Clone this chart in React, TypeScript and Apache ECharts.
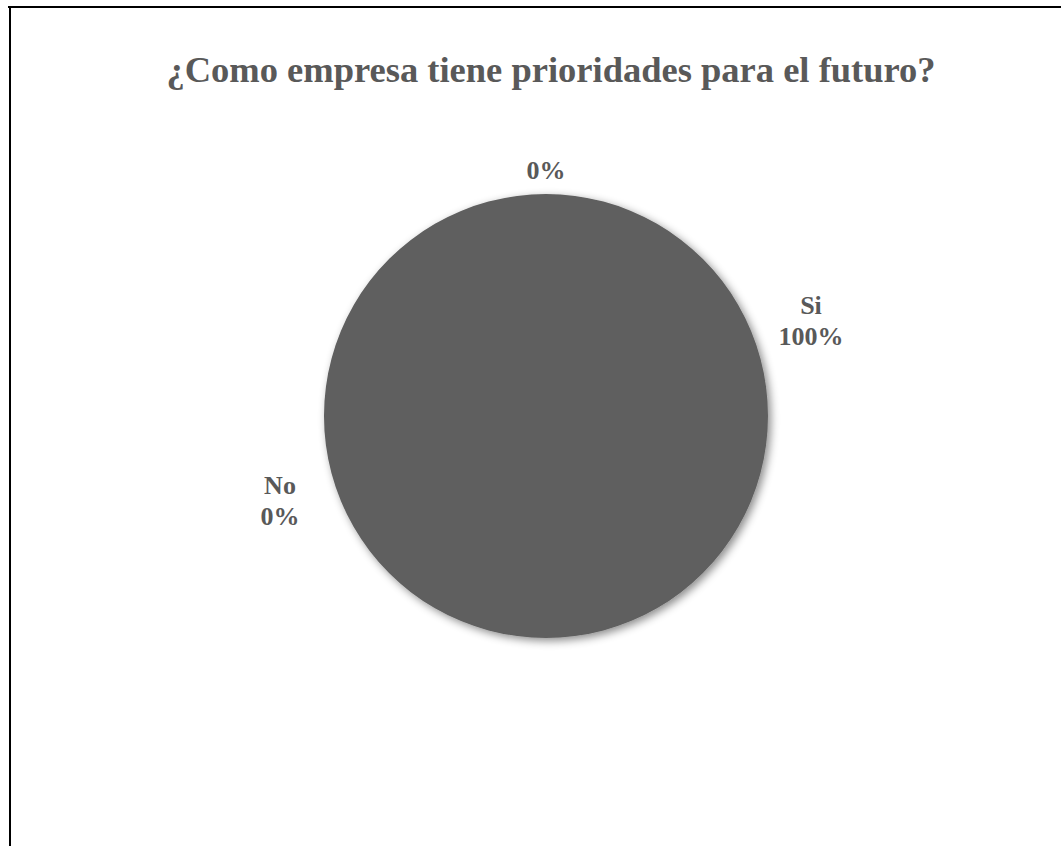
import React, { useEffect, useRef } from "react";
import * as echarts from "echarts";

const titleText = "¿Como empresa tiene prioridades para el futuro?";
const categories = ["Si", "No", ""];
const values = [100, 0, 0];

export default function App() {
  const ref = useRef<HTMLDivElement>(null);
  useEffect(() => {
    if (!ref.current) return;
    const chart = echarts.init(ref.current, undefined, { renderer: "svg" });
    const labelPos: Record<number, [number, number]> = {
      0: [811, 321],
      1: [280, 501],
      2: [546, 170],
    };
    chart.setOption({
      animation: false,
      backgroundColor: "#ffffff",
      title: {
        text: titleText,
        left: 546,
        textAlign: "center",
        top: 46,
        textStyle: {
          fontFamily: "Liberation Serif",
          fontWeight: "bold",
          fontSize: 36.5,
          color: "#595959",
        },
      },
      graphic: [
        { type: "line", shape: { x1: 8, y1: 7, x2: 1061, y2: 7 }, style: { stroke: "#000", lineWidth: 2 } },
        { type: "line", shape: { x1: 10, y1: 6, x2: 10, y2: 846 }, style: { stroke: "#000", lineWidth: 2 } },
      ],
      series: [
        {
          type: "pie",
          center: [546, 416],
          radius: 222,
          startAngle: 90,
          clockwise: true,
          silent: true,
          data: categories.map((c, i) => ({ name: c, value: values[i] })),
          itemStyle: {
            color: "#5f5f5f",
            shadowBlur: 8,
            shadowColor: "rgba(0,0,0,0.45)",
            shadowOffsetX: 3,
            shadowOffsetY: 3,
          },
          label: {
            show: true,
            position: "outside",
            fontFamily: "Liberation Serif",
            fontWeight: "bold",
            fontSize: 26,
            lineHeight: 31,
            color: "#595959",
            align: "center",
            formatter: (p: any) =>
              p.name ? `${p.name}\n${Math.round(p.percent)}%` : `${Math.round(p.percent)}%`,
          },
          labelLine: { show: false },
          labelLayout: (p: any) => {
            const pos = labelPos[p.dataIndex];
            return { x: pos[0], y: pos[1], align: "center", verticalAlign: "middle" };
          },
        },
      ],
    });
    return () => chart.dispose();
  }, []);
  return (
    <div
      ref={ref}
      style={{ position: "absolute", left: 0, top: 0, width: 1061, height: 846 }}
    />
  );
}
